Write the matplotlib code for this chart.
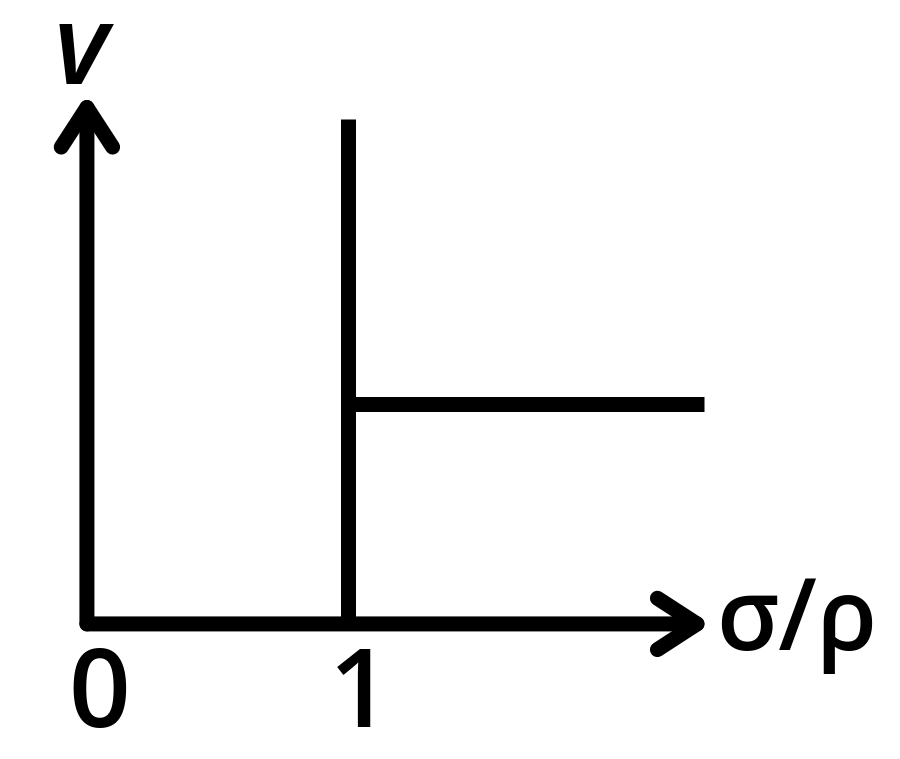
import matplotlib
matplotlib.use("Agg")
import matplotlib.pyplot as plt

# Data (in schematic units)
x_ticks = [0, 1]
tick_labels = ["0", "1"]
threshold_x = 1.0          # vertical line position (sigma/rho = 1)
vertical_top = 2.295       # top of the vertical line
plateau_v = 1.0            # height of the horizontal plateau
plateau_end = 2.364        # end of plateau along x
x_axis_end = 2.39
y_axis_end = 2.41
x_label = "σ/ρ"
y_label = "v"

fig = plt.figure(figsize=(9, 7.59), dpi=100)
ax = fig.add_axes([0, 0, 1, 1])
ax.set_xlim(-0.333, 3.115)
ax.set_ylim(-0.614, 2.836)
ax.axis("off")

LW = 10.8
arrow_kw = dict(arrowstyle="->,head_length=2.85,head_width=1.85", lw=LW, color="black",
                shrinkA=0, shrinkB=0, capstyle="round", joinstyle="round", mutation_scale=10)

# axes arrows
ax.annotate("", xy=(0, y_axis_end), xytext=(0, 0), arrowprops=arrow_kw)
ax.annotate("", xy=(x_axis_end, 0), xytext=(0, 0), arrowprops=arrow_kw)

# vertical line at threshold and plateau
ax.plot([threshold_x, threshold_x], [0, vertical_top], color="black", lw=LW, solid_capstyle="butt")
ax.plot([threshold_x, plateau_end], [plateau_v, plateau_v], color="black", lw=LW, solid_capstyle="butt")

FONT = ["Open Sans", "DejaVu Sans"]
# tick labels
for xt, lab in zip(x_ticks, tick_labels):
    ax.text(xt + 0.046, -0.47, lab, ha="center", va="baseline", fontsize=78,
            family=FONT, fontweight="semibold")

ax.text(2.41, -0.118, x_label, ha="left", va="baseline", fontsize=71,
        family=FONT, fontweight="semibold")
ax.text(-0.023, 2.586, y_label, ha="center", va="center", fontsize=80,
        family=FONT, fontweight="semibold", style="italic")

fig.savefig("out.png", dpi=100, facecolor="white")
